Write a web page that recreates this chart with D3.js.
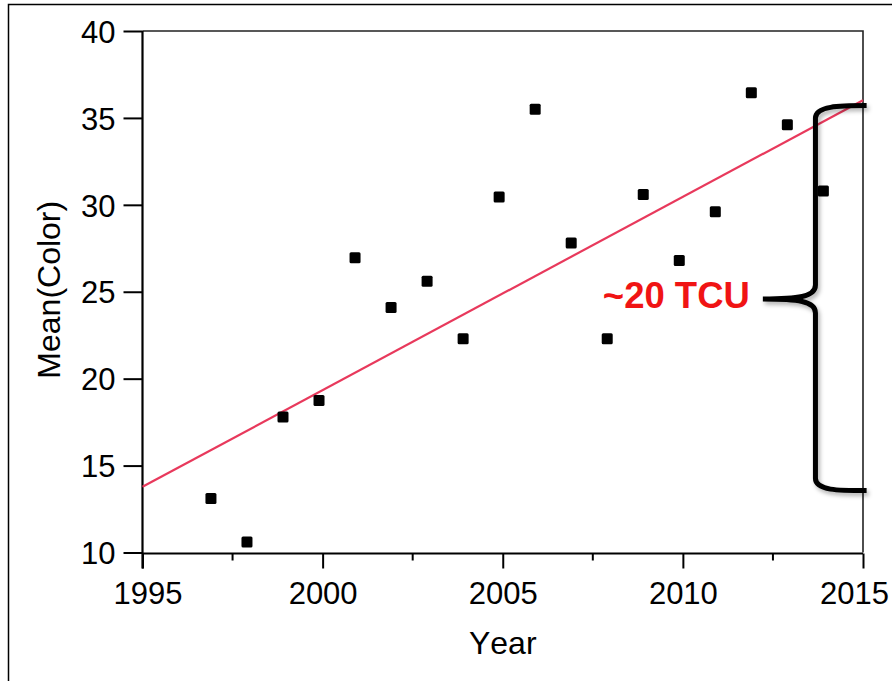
<!DOCTYPE html>
<html>
<head>
<meta charset="utf-8">
<script src="https://cdn.jsdelivr.net/npm/d3@7"></script>
<style>
  html, body { margin: 0; padding: 0; background: #fff; }
  svg { display: block; font-family: "Liberation Sans", Arial, sans-serif; font-kerning: none; }
</style>
</head>
<body>
<svg id="chart" width="892" height="681"></svg>
<script>
// ---- data ----
const years = [1996.9, 1997.9, 1998.9, 1999.9, 2000.9, 2001.9, 2002.9, 2003.9, 2004.9,
               2005.9, 2006.9, 2007.9, 2008.9, 2009.9, 2010.9, 2011.9, 2012.9, 2013.9];
const meanColor = [13.1, 10.6, 17.8, 18.75, 26.95, 24.1, 25.6, 22.3, 30.45,
                   35.5, 27.8, 22.3, 30.6, 26.8, 29.6, 36.45, 34.6, 30.8];
const fitYears = [1995, 2015];
const fitValues = [13.78, 36.02];
const xTicks = [1995, 2000, 2005, 2010, 2015];
const xMinorTicks = [1997.5, 2002.5, 2007.5, 2012.5];
const yTicks = [10, 15, 20, 25, 30, 35, 40];
// brace annotation (data units): top value, tip value, bottom value
const braceValues = [35.68, 24.58, 13.56];
const braceYears = [2015.1, 2013.68, 2012.22]; // right end, spine, tip
const annotationText = "~20 TCU";

// ---- layout ----
const svg = d3.select("#chart");
const x = d3.scaleLinear().domain([1995, 2015]).range([142.5, 863]);
const y = d3.scaleLinear().domain([10, 40]).range([552.5, 31]);

// outer frame
svg.append("path")
  .attr("d", "M8.5,681 V4.5 H892")
  .attr("fill", "none").attr("stroke", "#000").attr("stroke-width", 1.5);

// shadow filter
const defs = svg.append("defs");
const f = defs.append("filter").attr("id", "shadow")
  .attr("x", "-50%").attr("y", "-20%").attr("width", "200%").attr("height", "140%");
f.append("feDropShadow").attr("dx", 2).attr("dy", 3).attr("stdDeviation", 2)
  .attr("flood-color", "#000").attr("flood-opacity", 0.3);

// plot frame (top / right)
svg.append("path")
  .attr("d", `M${x(1995)},${y(40)} H${x(2015)} V${y(10)}`)
  .attr("fill", "none").attr("stroke", "#222").attr("stroke-width", 1.6);

// y axis
const yAxis = d3.axisLeft(y).tickValues(yTicks).tickSize(19).tickPadding(8).tickFormat(d3.format("d"));
const gy = svg.append("g").attr("transform", `translate(${x(1995)},0)`).call(yAxis);
gy.select(".domain").attr("stroke", "#000").attr("stroke-width", 2.2)
  .attr("d", `M0,${y(40)} V${y(10) + 16}`);
gy.selectAll(".tick line").attr("stroke", "#000").attr("stroke-width", 2);
gy.selectAll(".tick text").attr("font-size", 31).attr("fill", "#000")
  .attr("font-family", "Liberation Sans, Arial, sans-serif").attr("dy", "0.36em");

// x axis
const xAxis = d3.axisBottom(x).tickValues(xTicks).tickSize(15).tickPadding(13).tickFormat(d3.format("d"));
const gx = svg.append("g").attr("transform", `translate(0,${y(10) + 1})`).call(xAxis);
gx.select(".domain").attr("stroke", "#000").attr("stroke-width", 2.2)
  .attr("d", `M${x(1995)},0 H${x(2015)}`);
gx.selectAll(".tick line").attr("stroke", "#000").attr("stroke-width", 2);
gx.selectAll(".tick text").attr("font-size", 31).attr("fill", "#000")
  .attr("font-family", "Liberation Sans, Arial, sans-serif")
  .attr("dx", d => d === 1995 ? 5 : (d === 2015 ? -9 : 0));
// minor ticks
gx.selectAll(".minor").data(xMinorTicks).enter().append("line")
  .attr("x1", d => x(d)).attr("x2", d => x(d))
  .attr("y1", 0).attr("y2", 7)
  .attr("stroke", "#000").attr("stroke-width", 2);

// axis titles
svg.append("text").attr("x", (x(1995) + x(2015)) / 2).attr("y", 654)
  .attr("text-anchor", "middle").attr("font-size", 32).attr("fill", "#000")
  .text("Year");
svg.append("text")
  .attr("transform", `translate(60,${(y(40) + y(10)) / 2 - 2}) rotate(-90)`)
  .attr("text-anchor", "middle").attr("font-size", 32).attr("fill", "#000")
  .text("Mean(Color)");

// regression line
svg.append("line")
  .attr("x1", x(fitYears[0])).attr("y1", y(fitValues[0]))
  .attr("x2", x(fitYears[1])).attr("y2", y(fitValues[1]))
  .attr("stroke", "#e8395c").attr("stroke-width", 2.2);

// points
const pts = years.map((yr, i) => ({ yr, v: meanColor[i] }));
svg.append("g").selectAll("rect").data(pts).enter().append("rect")
  .attr("x", d => x(d.yr) - 5.5).attr("y", d => y(d.v) - 5.5)
  .attr("width", 11).attr("height", 11).attr("rx", 1.5)
  .attr("fill", "#000");

// brace annotation
const xr = x(braceYears[0]), xs = x(braceYears[1]), xt = x(braceYears[2]);
const yt = y(braceValues[0]), ym = y(braceValues[1]), yb = y(braceValues[2]);
const bracePath = [
  `M${xr},${yt - 0.5}`,
  `C${xr - 28},${yt - 0.5} ${xs},${yt} ${xs},${yt + 12}`,
  `L${xs},${ym - 14}`,
  `C${xs},${ym - 2} ${xs - 18},${ym} ${xt},${ym}`,
  `M${xt},${ym}`,
  `C${xs - 18},${ym} ${xs},${ym + 2} ${xs},${ym + 14}`,
  `L${xs},${yb - 12}`,
  `C${xs},${yb} ${xr - 28},${yb} ${xr},${yb}`
].join(" ");
svg.append("path").attr("d", bracePath)
  .attr("fill", "none").attr("stroke", "#000").attr("stroke-width", 5)
  .attr("stroke-linejoin", "round")
  .attr("filter", "url(#shadow)");

svg.append("text").attr("x", xt - 160).attr("y", ym + 9)
  .attr("font-size", 36.5).attr("font-weight", "bold").attr("fill", "#f01414")
  .attr("textLength", 147).attr("lengthAdjust", "spacingAndGlyphs")
  .text(annotationText);
</script>
</body>
</html>
